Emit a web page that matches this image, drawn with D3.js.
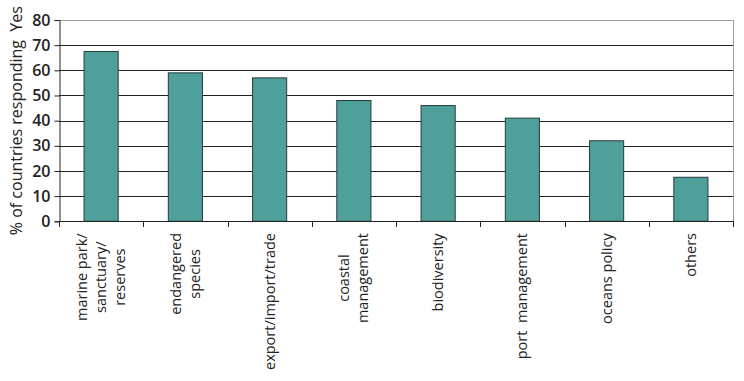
<!DOCTYPE html>
<html><head><meta charset="utf-8">
<script src="https://cdn.jsdelivr.net/npm/d3@7"></script>
<style>
html,body{margin:0;padding:0;background:#fff;}
svg{display:block;font-family:"Open Sans","Noto Sans",sans-serif;}
</style></head>
<body>
<svg id="chart" width="744" height="381"></svg>
<script>
const categories = [
  ["marine park/","sanctuary/","reserves"],
  ["endangered","species"],
  ["export/import/trade"],
  ["coastal","management"],
  ["biodiversity"],
  ["port  management"],
  ["oceans policy"],
  ["others"]
];
const values = [67.5, 59, 57, 48, 46, 41, 32, 17.5];
const yTicks = [0,10,20,30,40,50,60,70,80];
const yTitle = "% of countries responding  Yes";

const svg = d3.select("#chart");
const m = {left:59, right:11, top:20, bottom:160};
const W = 744, H = 381;
const x = d3.scaleBand().domain(d3.range(categories.length)).range([m.left, W - m.right]).padding(0);
const y = d3.scaleLinear().domain([0,80]).range([H - m.bottom + 0.3, m.top]);

// gridlines
svg.append("g").selectAll("line").data(yTicks.filter(t => t > 0))
  .join("line")
  .attr("x1", m.left).attr("x2", W - m.right)
  .attr("y1", d => Math.round(y(d)) + 0.5).attr("y2", d => Math.round(y(d)) + 0.5)
  .attr("stroke", d => d === 80 ? "#999" : "#222").attr("stroke-width", 1);

// right border
svg.append("line").attr("x1", W - m.right + 0.5).attr("x2", W - m.right + 0.5)
  .attr("y1", y(80)).attr("y2", y(0)).attr("stroke", "#999");

// bars
const bw = x.bandwidth() * 0.405;
svg.append("g").selectAll("rect").data(values)
  .join("rect")
  .attr("x", (d,i) => x(i) + x.bandwidth()/2 - bw/2)
  .attr("width", bw)
  .attr("y", d => y(d))
  .attr("height", d => y(0) - y(d))
  .attr("fill", "#4f9f9a")
  .attr("stroke", "#263b3a").attr("stroke-width", 1);

// y axis
const yAxis = d3.axisLeft(y).tickValues(yTicks).tickSize(5).tickPadding(4);
const gy = svg.append("g").attr("transform", `translate(${m.left + 0.5},0)`).call(yAxis);
gy.select(".domain").attr("stroke", "#222");
gy.selectAll(".tick line").attr("stroke", "#222");
gy.selectAll(".tick text").attr("font-size", 16).attr("font-weight", 600).attr("fill", "#222")
  .attr("font-family", "'Open Sans','Noto Sans',sans-serif");

// x axis
const xEdges = d3.range(categories.length + 1).map(i => m.left + i * x.bandwidth());
svg.append("line").attr("x1", m.left).attr("x2", W - m.right)
  .attr("y1", Math.round(y(0)) + 0.5).attr("y2", Math.round(y(0)) + 0.5).attr("stroke", "#222");
svg.append("g").selectAll("line").data(xEdges).join("line")
  .attr("x1", d => Math.round(d) + 0.5).attr("x2", d => Math.round(d) + 0.5)
  .attr("y1", Math.round(y(0))).attr("y2", Math.round(y(0)) + 6).attr("stroke", "#222");

// x labels
const fs = 14.5, lh = 19;
const lab = svg.append("g").attr("font-size", fs).attr("fill", "#222");
categories.forEach((lines, i) => {
  const cx = x(i) + x.bandwidth()/2;
  const g = lab.append("g").attr("transform", `translate(${cx},233) rotate(-90)`);
  const n = lines.length;
  const t = g.append("text").attr("text-anchor", "middle");
  lines.forEach((s, j) => {
    t.append("tspan").attr("x", 0).attr("y", (j - (n-1)/2) * lh + fs*0.35).text(s).attr("xml:space","preserve");
  });
  const maxW = t.node().getBBox().width;
  t.selectAll("tspan").attr("x", -maxW/2);
});

// y title
svg.append("text").attr("transform", `translate(22,${(y(0)+y(80))/2 + 0}) rotate(-90)`)
  .attr("text-anchor", "middle").attr("font-size", 16).attr("fill", "#222")
  .attr("xml:space","preserve").text(yTitle);
</script>
</body></html>
